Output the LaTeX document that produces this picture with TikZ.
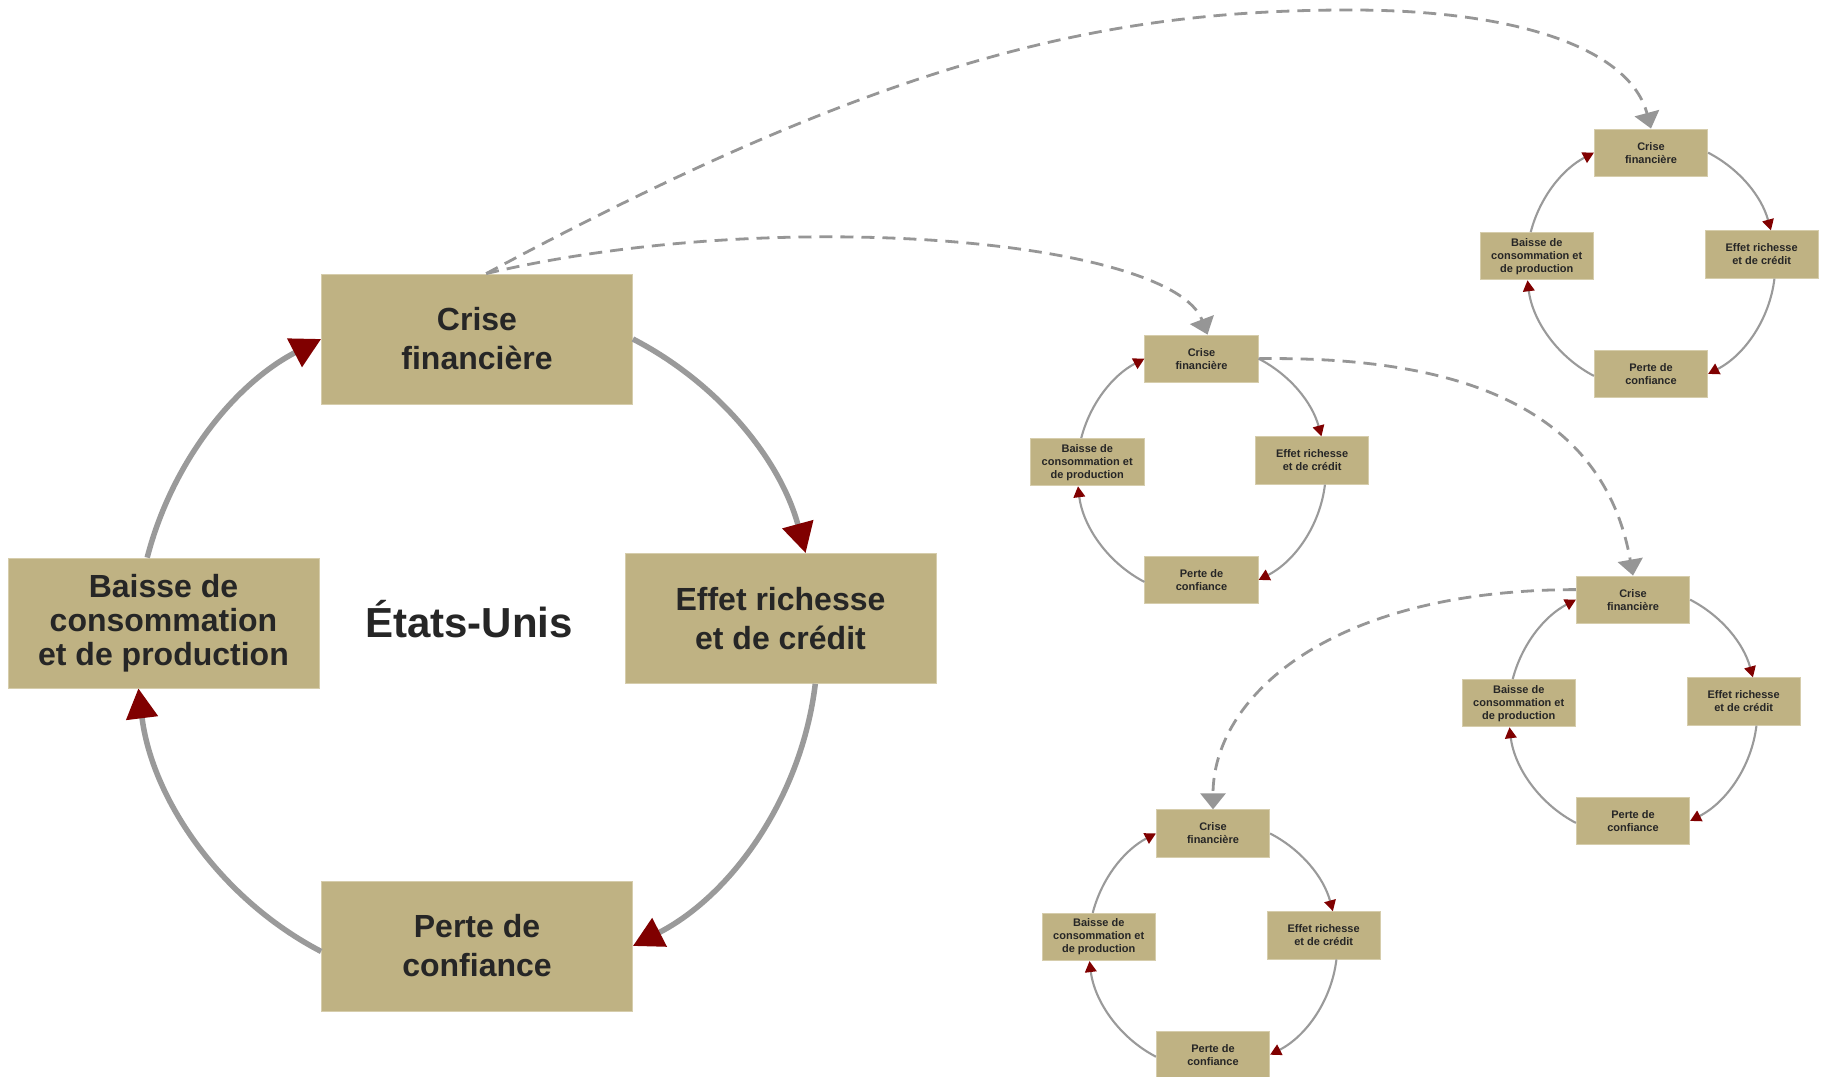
\documentclass[tikz,border=0pt]{standalone}
\usepackage{fontspec}
\setmainfont{Liberation Sans}
\usetikzlibrary{arrows.meta}
\definecolor{boxfill}{RGB}{191,178,131}
\definecolor{boxedge}{RGB}{214,205,172}
\definecolor{textdark}{RGB}{38,38,38}
\definecolor{arcgray}{RGB}{154,154,154}
\definecolor{arrowred}{RGB}{128,0,0}
\definecolor{dashgray}{RGB}{150,150,150}
\tikzset{
  box/.style={rectangle, fill=boxfill, draw=boxedge, line width=0.8pt, text=textdark, align=center, inner sep=0pt},
  bigarc/.style={draw=arcgray, line width=5.5pt, -{Triangle[width=31pt,length=30pt,color=arrowred]}},
  smallarc/.style={draw=arcgray, line width=2.1pt, -{Triangle[width=11.5pt,length=11pt,color=arrowred]}},
  link/.style={draw=dashgray, line width=2.8pt, dash pattern=on 13pt off 8pt, -{Triangle[width=25pt,length=16pt,color=dashgray]}},
  titlefont/.style={font=\bfseries\fontsize{42}{50}\selectfont, text=textdark}
}
% #1 prefix, #2 x, #3 y, #4 scale, #5 font (2 lines), #6 font (3 lines), #7 Baisse text, #8 arc style
\newcommand\cyc[8]{%
  \begin{scope}[shift={(#2,#3)}]
    \node[box, minimum width={#4*311pt}, minimum height={#4*130pt}, font={#5}] (#1crise) at (0,{#4*303.5}) {Crise\\financière};
    \node[box, minimum width={#4*311pt}, minimum height={#4*130pt}, font={#5}] (#1effet) at ({#4*303.5},{#4*24}) {Effet richesse\\et de crédit};
    \node[box, minimum width={#4*311pt}, minimum height={#4*130pt}, font={#5}] (#1perte) at (0,{-#4*303.5}) {Perte de\\confiance};
    \node[box, minimum width={#4*311pt}, minimum height={#4*130pt}, font={#6}] (#1baisse) at ({-#4*313.5},{#4*19.5}) {#7};
  \end{scope}
  \draw[#8] (#1crise.east) to[bend left=23.75, looseness=0.9] (#1effet.69);
  \draw[#8] (#1effet.298) to[bend left=28, looseness=0.9] (#1perte.east);
  \draw[#8] (#1perte.182) to[bend left=27.75, looseness=0.9] (#1baisse.249);
  \draw[#8] (#1baisse.104) to[bend left=24, looseness=0.9] (#1crise.west);
}
\begin{document}
\begin{tikzpicture}[x=1pt,y=1pt]
  \path[use as bounding box, fill=white] (0,0) rectangle (1825,1076);
  \cyc{b}{477}{433.5}{1}{\bfseries\fontsize{32}{39}\selectfont}{\bfseries\fontsize{32}{34}\selectfont}{Baisse de\\consommation\\et de production}{bigarc}
  \cyc{m}{1201.5}{606.7}{0.3645}{\bfseries\fontsize{11}{13}\selectfont}{\bfseries\fontsize{11}{13}\selectfont}{Baisse de\\consommation et\\de production}{smallarc}
  \cyc{t}{1651}{812.7}{0.3645}{\bfseries\fontsize{11}{13}\selectfont}{\bfseries\fontsize{11}{13}\selectfont}{Baisse de\\consommation et\\de production}{smallarc}
  \cyc{r}{1633}{365.7}{0.3645}{\bfseries\fontsize{11}{13}\selectfont}{\bfseries\fontsize{11}{13}\selectfont}{Baisse de\\consommation et\\de production}{smallarc}
  \cyc{l}{1213}{131.9}{0.3645}{\bfseries\fontsize{11}{13}\selectfont}{\bfseries\fontsize{11}{13}\selectfont}{Baisse de\\consommation et\\de production}{smallarc}
  \node[titlefont, anchor=base] (title) at (469,438) {États-Unis};
  \draw[link] (bcrise.82) .. controls (883,1015) and (1100,1066) .. (1350,1066) .. controls (1520,1066) and (1630,1026.5) .. (tcrise.north);
  \draw[link] (bcrise.82) .. controls (778,871.5) and (1172,836) .. (mcrise.76);
  \draw[link] (mcrise.east) .. controls (1458,720) and (1603,669.5) .. (rcrise.north);
  \draw[link] (rcrise.170) .. controls (1326,486) and (1213,377) .. (lcrise.north);
\end{tikzpicture}
\end{document}
